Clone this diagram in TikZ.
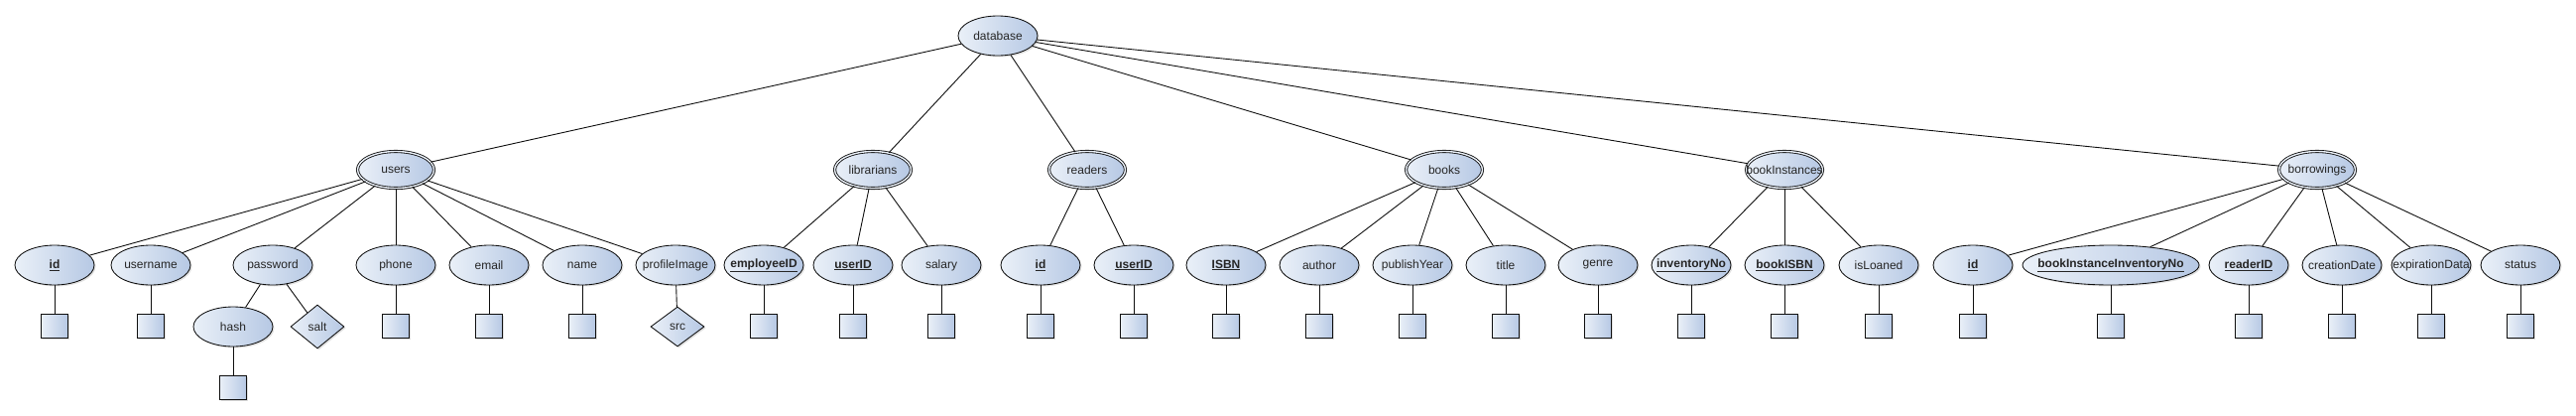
\documentclass[tikz,border=0pt]{standalone}
\usepackage{fontspec}
\setmainfont{Liberation Sans}
\usepackage{tikz}
\usetikzlibrary{shapes.geometric,shadows,positioning}
\definecolor{erlight}{RGB}{234,240,248}
\definecolor{erdark}{RGB}{182,200,228}
\definecolor{erstroke}{RGB}{15,15,15}
\newcommand{\erlbl}[1]{\makebox[0pt]{#1}}
\newcommand{\erkey}[1]{\makebox[0pt]{\underline{\textbf{#1}}}}
\tikzset{
  erbase/.style={draw=erstroke, line width=0.85pt, left color=erlight, right color=erdark, inner sep=0pt, text=black!85, font=\fontsize{12pt}{14pt}\selectfont, drop shadow={opacity=0.25, shadow xshift=1.5pt, shadow yshift=-1.5pt}},
  entity/.style={erbase, ellipse, double=erlight, double distance=1.4pt, minimum width=77pt, minimum height=37pt},
  attr/.style={erbase, ellipse, minimum width=80pt, minimum height=40pt},
  valbox/.style={erbase, rectangle, minimum width=27pt, minimum height=24pt},
  multi/.style={erbase, diamond, minimum width=54pt, minimum height=44pt},
  link/.style={draw=erstroke, line width=0.9pt}
}

\begin{document}
\begin{tikzpicture}[x=1pt, y=-1pt]
\useasboundingbox (0,0) rectangle (2597,418);
% root and tables
\node[attr] (db) at (1006,36) {\erlbl{database}};
\node[entity] (users) at (399,171) {\erlbl{users}};
\node[entity] (libs) at (880,171) {\erlbl{librarians}};
\node[entity] (readers) at (1096,171) {\erlbl{readers}};
\node[entity] (books) at (1456,171) {\erlbl{books}};
\node[entity] (binst) at (1799,171) {\erlbl{bookInstances}};
\node[entity] (borrow) at (2336,171) {\erlbl{borrowings}};
\draw[link] (db)--(users); \draw[link] (db)--(libs); \draw[link] (db)--(readers);
\draw[link] (db)--(books); \draw[link] (db)--(binst); \draw[link] (db)--(borrow);
% users
\node[attr] (uid) at (55,267) {\erkey{id}};
\node[attr] (uuser) at (152,267) {\erlbl{username}};
\node[attr] (upass) at (275,267) {\erlbl{password}};
\node[attr] (uphone) at (399,267) {\erlbl{phone}};
\node[attr] (umail) at (493,267) {\erlbl{email}};
\node[attr] (uname) at (587,267) {\erlbl{name}};
\node[attr] (uimg) at (681,267) {\erlbl{profileImage}};
\node[attr] (hash) at (235,329) {\erlbl{hash}};
\node[multi] (salt) at (320,329) {\erlbl{salt}};
\node[multi, minimum height=40pt] (src) at (683,329) {\erlbl{src}};
\draw[link] (users)--(uid); \draw[link] (users)--(uuser); \draw[link] (users)--(upass);
\draw[link] (users)--(uphone); \draw[link] (users)--(umail); \draw[link] (users)--(uname);
\draw[link] (users)--(uimg);
\draw[link] (upass)--(hash); \draw[link] (upass)--(salt); \draw[link] (uimg)--(src);
% librarians
\node[attr] (lemp) at (770,267) {\erkey{employeeID}};
\node[attr] (luser) at (860,267) {\erkey{userID}};
\node[attr] (lsal) at (949,267) {\erlbl{salary}};
\draw[link] (libs)--(lemp); \draw[link] (libs)--(luser); \draw[link] (libs)--(lsal);
% readers
\node[attr] (rid) at (1049,267) {\erkey{id}};
\node[attr] (ruser) at (1143,267) {\erkey{userID}};
\draw[link] (readers)--(rid); \draw[link] (readers)--(ruser);
% books
\node[attr] (bisbn) at (1236,267) {\erkey{ISBN}};
\node[attr] (bauth) at (1330,267) {\erlbl{author}};
\node[attr] (byear) at (1424,267) {\erlbl{publishYear}};
\node[attr] (btitle) at (1518,267) {\erlbl{title}};
\node[attr] (bgenre) at (1611,267) {\erlbl{genre}};
\draw[link] (books)--(bisbn); \draw[link] (books)--(bauth); \draw[link] (books)--(byear);
\draw[link] (books)--(btitle); \draw[link] (books)--(bgenre);
% bookInstances
\node[attr] (iinv) at (1705,267) {\erkey{inventoryNo}};
\node[attr] (iisbn) at (1799,267) {\erkey{bookISBN}};
\node[attr] (iloan) at (1894,267) {\erlbl{isLoaned}};
\draw[link] (binst)--(iinv); \draw[link] (binst)--(iisbn); \draw[link] (binst)--(iloan);
% borrowings
\node[attr] (wid) at (1989,267) {\erkey{id}};
\node[attr, minimum width=178pt] (winv) at (2128,267) {\erkey{bookInstanceInventoryNo}};
\node[attr] (wread) at (2267,267) {\erkey{readerID}};
\node[attr] (wmade) at (2361,267) {\erlbl{creationDate}};
\node[attr] (wexp) at (2451,267) {\erlbl{expirationData}};
\node[attr] (wstat) at (2541,267) {\erlbl{status}};
\draw[link] (borrow)--(wid); \draw[link] (borrow)--(winv); \draw[link] (borrow)--(wread);
\draw[link] (borrow)--(wmade); \draw[link] (borrow)--(wexp); \draw[link] (borrow)--(wstat);
% value boxes
\node[valbox, below=29pt of uid] (uid-v) {}; \draw[link] (uid)--(uid-v);
\node[valbox, below=29pt of uuser] (uuser-v) {}; \draw[link] (uuser)--(uuser-v);
\node[valbox, below=29pt of hash] (hash-v) {}; \draw[link] (hash)--(hash-v);
\node[valbox, below=29pt of uphone] (uphone-v) {}; \draw[link] (uphone)--(uphone-v);
\node[valbox, below=29pt of umail] (umail-v) {}; \draw[link] (umail)--(umail-v);
\node[valbox, below=29pt of uname] (uname-v) {}; \draw[link] (uname)--(uname-v);
\node[valbox, below=29pt of lemp] (lemp-v) {}; \draw[link] (lemp)--(lemp-v);
\node[valbox, below=29pt of luser] (luser-v) {}; \draw[link] (luser)--(luser-v);
\node[valbox, below=29pt of lsal] (lsal-v) {}; \draw[link] (lsal)--(lsal-v);
\node[valbox, below=29pt of rid] (rid-v) {}; \draw[link] (rid)--(rid-v);
\node[valbox, below=29pt of ruser] (ruser-v) {}; \draw[link] (ruser)--(ruser-v);
\node[valbox, below=29pt of bisbn] (bisbn-v) {}; \draw[link] (bisbn)--(bisbn-v);
\node[valbox, below=29pt of bauth] (bauth-v) {}; \draw[link] (bauth)--(bauth-v);
\node[valbox, below=29pt of byear] (byear-v) {}; \draw[link] (byear)--(byear-v);
\node[valbox, below=29pt of btitle] (btitle-v) {}; \draw[link] (btitle)--(btitle-v);
\node[valbox, below=29pt of bgenre] (bgenre-v) {}; \draw[link] (bgenre)--(bgenre-v);
\node[valbox, below=29pt of iinv] (iinv-v) {}; \draw[link] (iinv)--(iinv-v);
\node[valbox, below=29pt of iisbn] (iisbn-v) {}; \draw[link] (iisbn)--(iisbn-v);
\node[valbox, below=29pt of iloan] (iloan-v) {}; \draw[link] (iloan)--(iloan-v);
\node[valbox, below=29pt of wid] (wid-v) {}; \draw[link] (wid)--(wid-v);
\node[valbox, below=29pt of winv] (winv-v) {}; \draw[link] (winv)--(winv-v);
\node[valbox, below=29pt of wread] (wread-v) {}; \draw[link] (wread)--(wread-v);
\node[valbox, below=29pt of wmade] (wmade-v) {}; \draw[link] (wmade)--(wmade-v);
\node[valbox, below=29pt of wexp] (wexp-v) {}; \draw[link] (wexp)--(wexp-v);
\node[valbox, below=29pt of wstat] (wstat-v) {}; \draw[link] (wstat)--(wstat-v);
\end{tikzpicture}
\end{document}
